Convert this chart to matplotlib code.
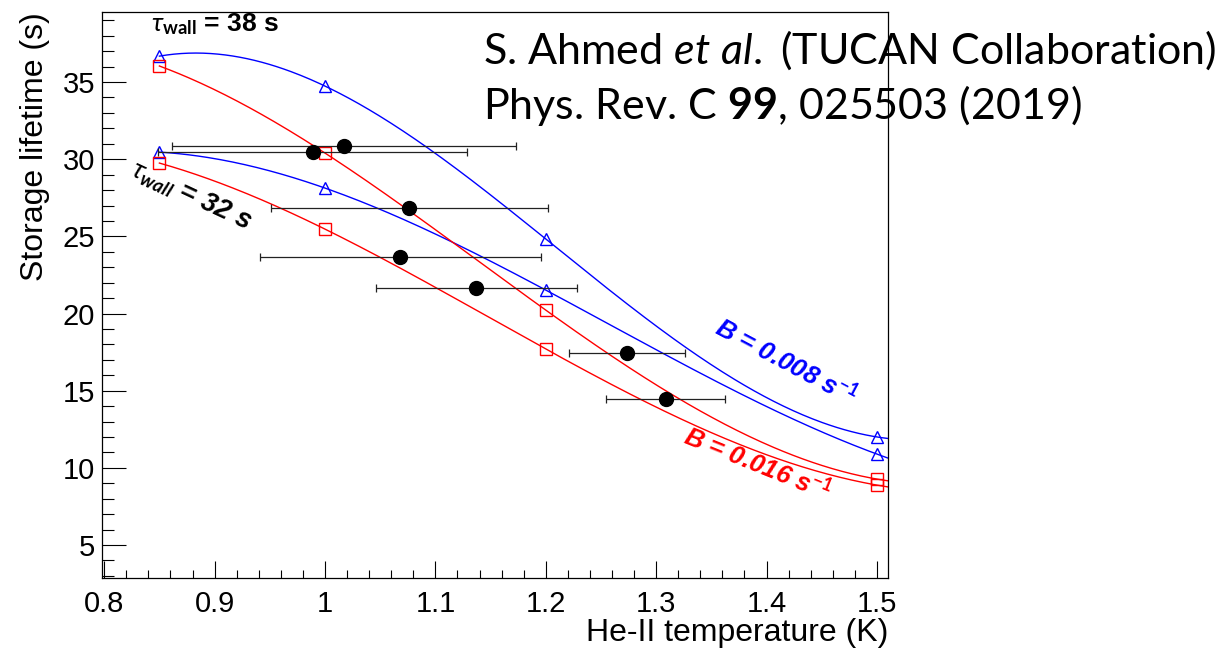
import numpy as np
import matplotlib
matplotlib.use('Agg')
import matplotlib.pyplot as plt
from matplotlib.ticker import MultipleLocator, FuncFormatter

plt.rcParams['font.family'] = ['Liberation Sans', 'DejaVu Sans']
plt.rcParams['mathtext.fontset'] = 'custom'
plt.rcParams['mathtext.rm'] = 'Lato'
plt.rcParams['mathtext.it'] = 'Lato:italic'
plt.rcParams['mathtext.bf'] = 'Lato:bold'
plt.rcParams['mathtext.bfit'] = 'Lato:italic:bold'

# model points (He-II temperature, storage lifetime)
temps = [0.85, 1.0, 1.2, 1.5]
tau38_b008 = [36.68, 34.74, 24.83, 12.0]
tau32_b008 = [30.46, 28.13, 21.52, 10.89]
tau38_b016 = [36.04, 30.40, 20.22, 9.27]
tau32_b016 = [29.75, 25.47, 17.70, 8.88]

# measured points with temperature errors
meas_T = [0.989, 1.017, 1.076, 1.068, 1.137, 1.274, 1.309]
meas_tau = [30.46, 30.85, 26.83, 23.66, 21.65, 17.44, 14.46]
meas_T_lo = [0.140, 0.156, 0.125, 0.127, 0.091, 0.053, 0.054]
meas_T_hi = [0.140, 0.156, 0.126, 0.128, 0.091, 0.052, 0.053]

xmin, xmax = 0.798, 1.51
ymin, ymax = 2.86, 39.54

fig = plt.figure(figsize=(12.26, 6.48), dpi=100)
ax = fig.add_axes([102/1226, 70/648, 786/1226, 566/648])

xs = np.linspace(temps[0], xmax, 300)
curves = [(tau38_b008, 'blue', '^'), (tau32_b008, 'blue', '^'),
          (tau38_b016, 'red', 's'), (tau32_b016, 'red', 's')]
for vals, col, mk in curves:
    c = np.polyfit(temps, vals, 3)
    ax.plot(xs, np.polyval(c, xs), color=col, lw=1.0)
for vals, col, mk in curves:
    ax.plot(temps, vals, ls='none', marker=mk, mfc='none', mec=col,
            mew=1.0, ms=8.5, clip_on=False)

ax.errorbar(meas_T, meas_tau, xerr=[meas_T_lo, meas_T_hi], fmt='o',
            color='black', ms=10, ecolor='#222222', elinewidth=0.9,
            capsize=3, capthick=0.9, zorder=5)

ax.set_xlim(xmin, xmax)
ax.set_ylim(ymin, ymax)
ax.xaxis.set_major_locator(MultipleLocator(0.1))
ax.xaxis.set_minor_locator(MultipleLocator(0.02))
ax.yaxis.set_major_locator(MultipleLocator(5))
ax.yaxis.set_minor_locator(MultipleLocator(1))
ax.xaxis.set_major_formatter(FuncFormatter(lambda v, p: '%g' % round(v, 2)))
ax.yaxis.set_major_formatter(FuncFormatter(lambda v, p: '%g' % v))
ax.tick_params(which='both', direction='in', top=False, right=False, width=0.8)
ax.tick_params(axis='x', which='major', length=12.5, pad=9, labelsize=21)
ax.tick_params(axis='x', which='minor', length=6)
ax.tick_params(axis='y', which='major', length=17, pad=5, labelsize=21)
ax.tick_params(axis='y', which='minor', length=8.5)
for s in ax.spines.values():
    s.set_linewidth(0.9)

ax.set_xlabel('He-II temperature (K)', fontsize=23, loc='right')
ax.xaxis.set_label_coords(1.0, -0.07)
ax.set_ylabel('Storage lifetime (s)', fontsize=23, loc='top')
ax.yaxis.set_label_coords(-0.066, 1.0)

ax.text(0.842, 38.75, r'$\tau_{\mathbf{wall}}$ = 38 s', fontsize=19,
        fontweight='bold', va='center', ha='left')
ax.text(0.878, 27.6, r'$\tau_{\mathbfit{wall}}$ = 32 s', fontsize=19.5,
        fontweight='bold', fontstyle='italic', rotation=-25,
        rotation_mode='anchor', ha='center', va='center')
ax.text(1.418, 16.9, r'B = 0.008 s$^{\mathbf{-1}}$', fontsize=18.5,
        fontweight='bold', fontstyle='italic', color='blue', rotation=-28,
        rotation_mode='anchor', ha='center', va='center')
ax.text(1.392, 10.3, r'B = 0.016 s$^{\mathbf{-1}}$', fontsize=18.5,
        fontweight='bold', fontstyle='italic', color='red', rotation=-22,
        rotation_mode='anchor', ha='center', va='center')

fig.text(483/1226, 1 - 50/648, r'S. Ahmed $\mathit{et\ al.}$ (TUCAN Collaboration)',
         fontsize=31, family='Lato', va='center', ha='left')
fig.text(483/1226, 1 - 106/648, r'Phys. Rev. C $\mathbf{99}$, 025503 (2019)',
         fontsize=31, family='Lato', va='center', ha='left')

fig.savefig('out.png', dpi=100)
